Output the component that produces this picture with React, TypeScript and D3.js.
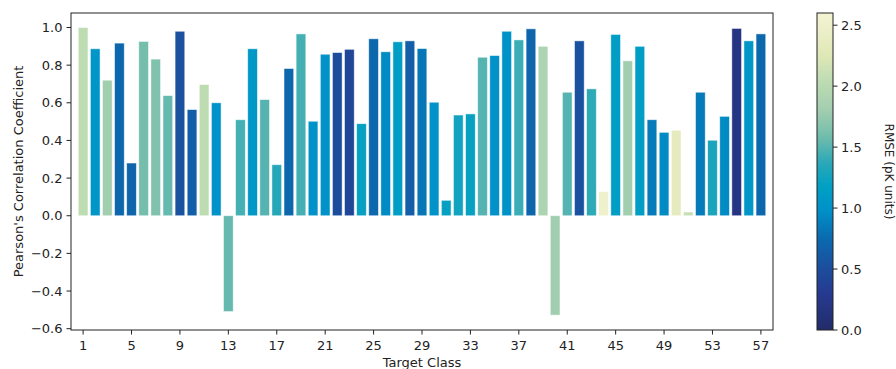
import { useMemo } from 'react';
import * as d3 from 'd3';

// Target classes 1..57
const classes: number[] = Array.from({ length: 57 }, (_, i) => i + 1);

// Pearson's correlation per target class
const pearson: number[] = [
    1.0, 0.887, 0.72, 0.917, 0.28, 0.926, 0.832, 0.638, 0.98, 0.564,
    0.697, 0.6, -0.509, 0.51, 0.887, 0.617, 0.271, 0.782, 0.966, 0.502,
    0.858, 0.867, 0.884, 0.489, 0.94, 0.871, 0.924, 0.929, 0.888, 0.603,
    0.082, 0.535, 0.541, 0.842, 0.851, 0.98, 0.934, 0.993, 0.9, -0.528,
    0.656, 0.929, 0.674, 0.128, 0.963, 0.823, 0.9, 0.51, 0.443, 0.454,
    0.02, 0.656, 0.401, 0.528, 0.995, 0.929, 0.966,
];

// RMSE (pK units) per target class, drives the bar colour
const rmse: number[] = [
    2.05, 1.05, 1.8, 0.72, 0.7, 1.6, 1.65, 1.55, 0.55, 0.65,
    2.05, 1.0, 1.55, 1.45, 1.08, 1.5, 1.35, 0.72, 1.45, 1.0,
    1.0, 0.5, 0.42, 1.2, 0.72, 0.95, 1.15, 0.65, 0.82, 1.0,
    1.2, 1.25, 1.2, 1.5, 1.0, 1.02, 1.42, 0.7, 1.9, 1.8,
    1.5, 0.55, 1.38, 2.5, 1.15, 1.8, 1.15, 0.85, 0.95, 2.35,
    2.1, 0.85, 1.3, 0.95, 0.2, 1.05, 0.72,
];

// colour map stops (YlGnBu reversed)
const cmapValues = [0.0, 0.3, 0.55, 0.76, 0.98, 1.17, 1.37, 1.58, 1.8, 2.05, 2.25, 2.6];
const cmapColors = ['#222c6a', '#263a90', '#1a52a0', '#0a6cb0', '#0090c8', '#00a0c4', '#2aa8b8', '#70bcac', '#a2ceb0', '#bedcb2', '#dfe8b6', '#f4f4d4'];

const yTicks = [-0.6, -0.4, -0.2, 0.0, 0.2, 0.4, 0.6, 0.8, 1.0];
const xTicks = [1, 5, 9, 13, 17, 21, 25, 29, 33, 37, 41, 45, 49, 53, 57];
const cbTicks = [0.0, 0.5, 1.0, 1.5, 2.0, 2.5];

const W = 896;
const H = 369;
const FONT = 'DejaVu Sans, sans-serif';
const FS = 13;

export default function App() {
    const left = 71, right = 773, top = 13, bottom = 330;
    const cbLeft = 817, cbRight = 833;
    const rmseMax = 2.6;
    const tickLen = 4.5;

    const x = d3.scaleLinear().domain([0, 58]).range([left, right]);
    const y = d3.scaleLinear().domain([-0.607, 1.077]).range([bottom, top]);
    const cy = d3.scaleLinear().domain([0, rmseMax]).range([bottom, top]);
    const color = d3.scaleLinear<string>()
        .domain(cmapValues)
        .range(cmapColors)
        .interpolate(d3.interpolateRgb)
        .clamp(true);

    const barW = (x(0.8) - x(0));

    const stops = useMemo(() => d3.range(0, 1.0001, 0.02), []);

    return (
        <svg width={W} height={H} style={{ position: 'absolute', left: 0, top: 0, fontFamily: FONT }}>
            <defs>
                <linearGradient id="cb" x1="0" y1="1" x2="0" y2="0">
                    {stops.map((s) => (
                        <stop key={s} offset={s} stopColor={color(s * rmseMax)} />
                    ))}
                </linearGradient>
            </defs>
            <rect width={W} height={H} fill="white" />

            {/* bars */}
            <g>
                {classes.map((c, i) => {
                    const v = pearson[i];
                    const y0 = y(Math.max(0, v));
                    const h = Math.abs(y(v) - y(0));
                    return (
                        <rect key={c} x={x(c) - barW / 2} y={y0} width={barW} height={h}
                            fill={color(rmse[i])} stroke="#ffffff" strokeOpacity={0.6} strokeWidth={0.8} />
                    );
                })}
            </g>

            {/* frame */}
            <rect x={left} y={top} width={right - left} height={bottom - top} fill="none" stroke="#222" strokeWidth={1} />

            {/* y axis */}
            <g fontSize={FS} fill="#222">
                {yTicks.map((t) => (
                    <g key={t}>
                        <line x1={left - tickLen} x2={left} y1={y(t)} y2={y(t)} stroke="#222" />
                        <text x={left - tickLen - 4} y={y(t) + 4.7} textAnchor="end">{t < 0 ? '\u2212' + Math.abs(t).toFixed(1) : t.toFixed(1)}</text>
                    </g>
                ))}
            </g>
            <text transform={`translate(22.5, ${(top + bottom) / 2}) rotate(-90)`} textAnchor="middle" fontSize={FS} fill="#222">
                Pearson's Correlation Coefficient
            </text>

            {/* x axis */}
            <g fontSize={FS} fill="#222">
                {xTicks.map((t) => (
                    <g key={t}>
                        <line x1={x(t)} x2={x(t)} y1={bottom} y2={bottom + tickLen} stroke="#222" />
                        <text x={x(t)} y={bottom + 19.5} textAnchor="middle">{t}</text>
                    </g>
                ))}
            </g>
            <text x={(left + right) / 2} y={367} textAnchor="middle" fontSize={FS} fill="#222">Target Class</text>

            {/* colorbar */}
            <rect x={cbLeft} y={top} width={cbRight - cbLeft} height={bottom - top} fill="url(#cb)" stroke="#222" strokeWidth={1} />
            <g fontSize={FS} fill="#222">
                {cbTicks.map((t) => (
                    <g key={t}>
                        <line x1={cbRight} x2={cbRight + tickLen} y1={cy(t)} y2={cy(t)} stroke="#222" />
                        <text x={cbRight + tickLen + 3.5} y={cy(t) + 4.7}>{t.toFixed(1)}</text>
                    </g>
                ))}
            </g>
            <text transform={`translate(885, ${(top + bottom) / 2}) rotate(90)`} textAnchor="middle" fontSize={12} fill="#222">
                RMSE (pK units)
            </text>
        </svg>
    );
}
